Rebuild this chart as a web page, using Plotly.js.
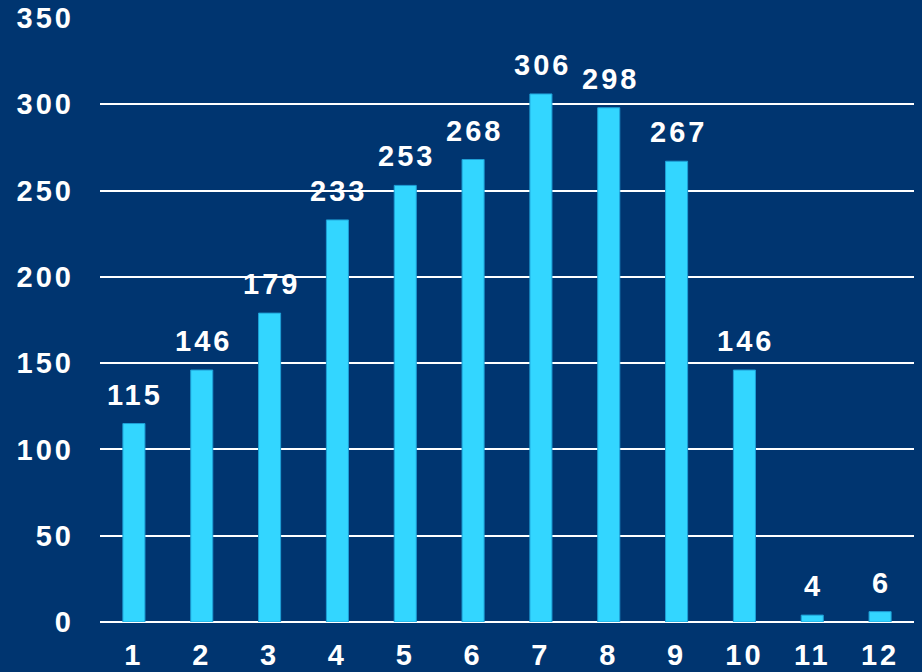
<!DOCTYPE html>
<html>
<head>
<meta charset="utf-8">
<script src="https://cdn.plot.ly/plotly-3.0.1.min.js"></script>
<style>
  html, body { margin: 0; padding: 0; background: #003570; }
  #chart { width: 922px; height: 672px; }
  .xtick text, .ytick text, .annotation-text { letter-spacing: 3px; }
</style>
</head>
<body>
<div id="chart"></div>
<script>
const categories = ["1","2","3","4","5","6","7","8","9","10","11","12"];
const values = [115, 146, 179, 233, 253, 268, 306, 298, 267, 146, 4, 6];
const yTicks = [0, 50, 100, 150, 200, 250, 300, 350];

const BG = '#003570';
const BAR = '#33D6FF';
const FONT = 'Liberation Sans, Arial, sans-serif';
const FS = 29;

const trace = {
  type: 'bar',
  x: categories,
  y: values,
  marker: { color: BAR, line: { color: '#1E9FD6', width: 1 } },
  hoverinfo: 'none'
};

const annotations = categories.map((c, i) => ({
  x: i, y: values[i], xref: 'x', yref: 'y',
  text: String(values[i]),
  showarrow: false, yanchor: 'bottom', yshift: 11, xshift: 1.5,
  font: { family: FONT, size: FS, color: '#ffffff', weight: 'bold' }
}));

const layout = {
  width: 922, height: 672,
  paper_bgcolor: BG, plot_bgcolor: BG,
  margin: { l: 100, r: 8, t: 18, b: 50 },
  bargap: 0.675,
  showlegend: false,
  font: { family: FONT, size: FS, color: '#ffffff', weight: 'bold' },
  xaxis: {
    type: 'category',
    range: [-0.5, categories.length - 0.5],
    showgrid: false, zeroline: false, showline: false,
    ticks: '', ticklabelstandoff: 13,
    tickfont: { family: FONT, size: FS, color: '#ffffff', weight: 'bold' }
  },
  yaxis: {
    range: [0, 350],
    tickvals: yTicks,
    ticktext: yTicks.map(String),
    showgrid: true, gridcolor: '#ffffff', gridwidth: 2,
    zeroline: true, zerolinecolor: '#ffffff', zerolinewidth: 2,
    showline: false, ticks: '', ticklabelstandoff: 25,
    tickfont: { family: FONT, size: FS, color: '#ffffff', weight: 'bold' }
  },
  annotations: annotations
};

Plotly.newPlot('chart', [trace], layout, { displayModeBar: false, staticPlot: true });
</script>
</body>
</html>
